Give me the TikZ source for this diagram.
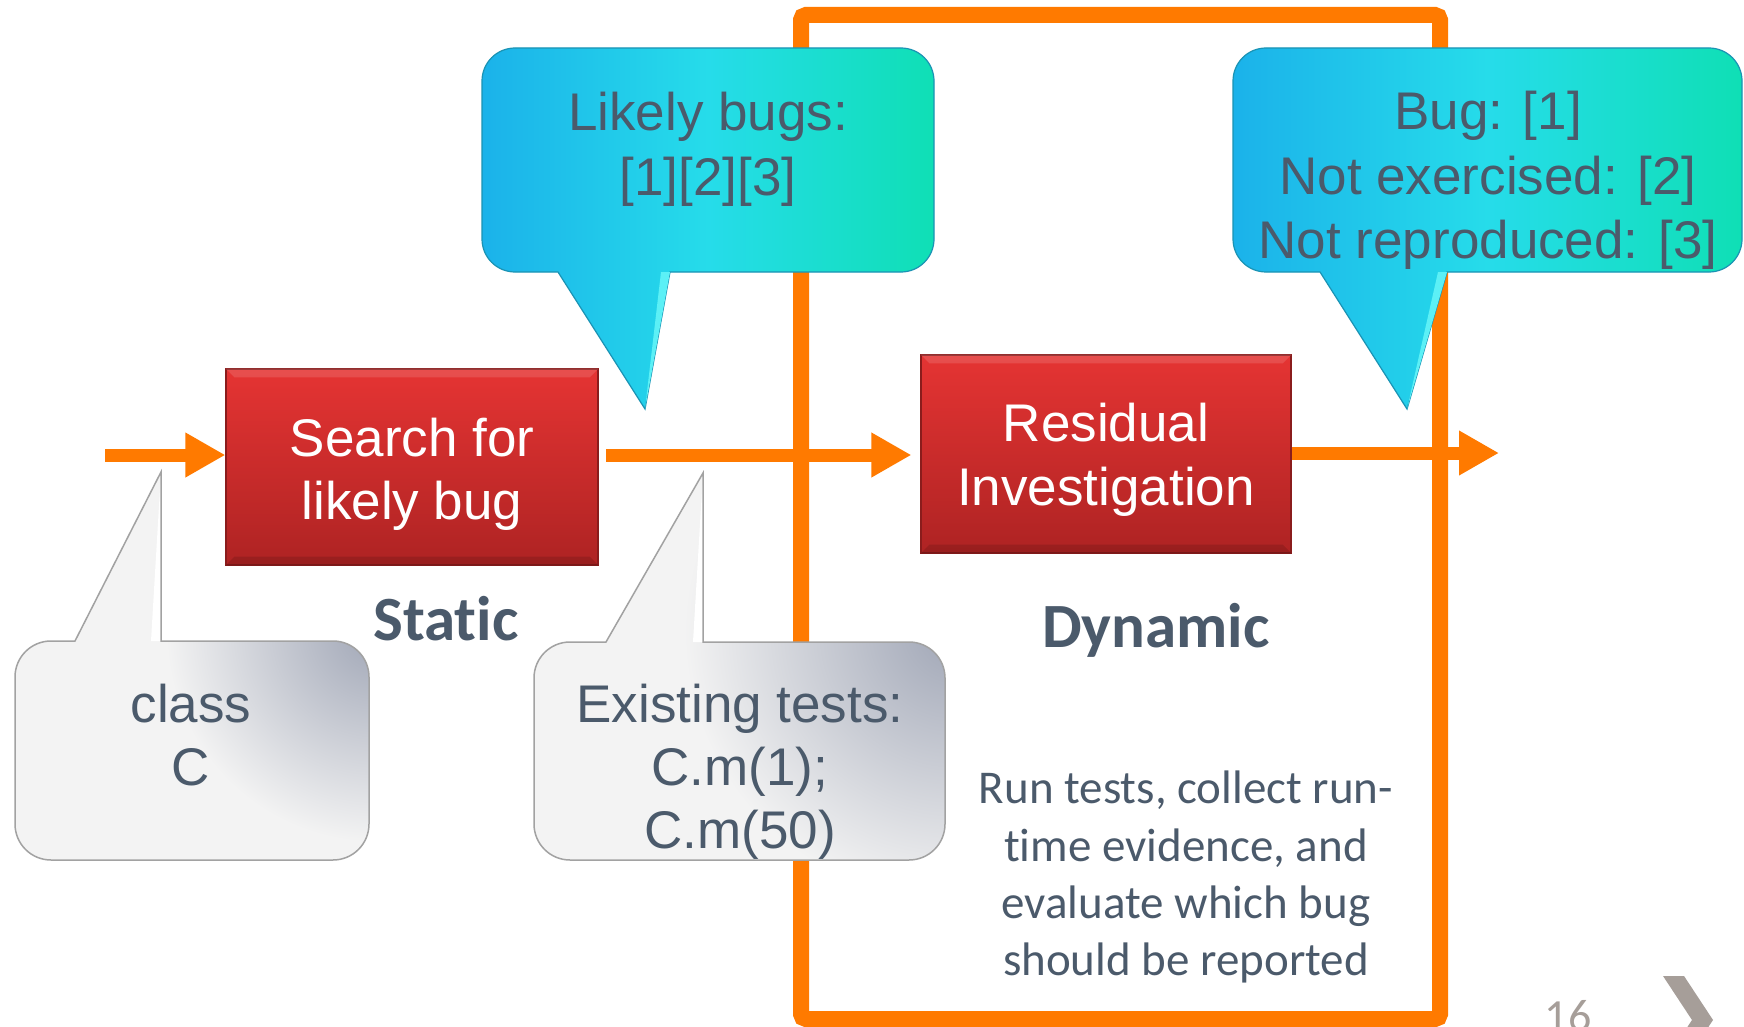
\documentclass[tikz,border=0pt]{standalone}
\usepackage{fontspec}
\setmainfont{Liberation Sans}
\newfontfamily\calfont[Ligatures=NoCommon]{Carlito}
\usetikzlibrary{arrows.meta}
\definecolor{orng}{HTML}{FF7A00}
\definecolor{slate}{HTML}{4B5A6B}
\definecolor{redtop}{HTML}{E53433}
\definecolor{redbot}{HTML}{AE2323}
\definecolor{reddark}{HTML}{8A1C1C}
\definecolor{cyA}{HTML}{1BB2EA}
\definecolor{cyB}{HTML}{26DCEA}
\definecolor{cyC}{HTML}{0FDFB5}
\definecolor{cyedge}{HTML}{1A93B4}
\definecolor{cyhi}{HTML}{5CF0F6}
\definecolor{gfill}{HTML}{F3F3F3}
\definecolor{gdark}{HTML}{A0A6B6}
\definecolor{gedge}{HTML}{A2A2A2}
\definecolor{pgnum}{HTML}{A69E99}
\tikzset{
  flowarrow/.style={draw=orng, line width=13pt, -{Triangle[length=40pt,width=42pt]}},
  redbox/.style={draw=reddark, line width=1.2pt, top color=redtop, bottom color=redbot, inner sep=0pt},
  cyanshape/.style={left color=cyA, right color=cyC, middle color=cyB, draw=cyedge, line width=1.2pt},
  greyshape/.style={fill=gfill},
  greyedge/.style={draw=gedge, line width=1.5pt},
  boxtxt/.style={anchor=base, inner sep=0pt, text=white, font=\fontsize{53}{63}\selectfont},
  calltxt/.style={anchor=base, inner sep=0pt, text=slate, font=\fontsize{53}{63}\selectfont},
  headtxt/.style={anchor=base, inner sep=0pt, text=slate, font=\calfont\bfseries\fontsize{63}{70}\selectfont},
  bodytxt/.style={anchor=base, inner sep=0pt, text=slate, font=\calfont\fontsize{47}{57}\selectfont},
}
\def\pA{(558,272) [rounded corners=33pt] -- (482,272) -- (482,48) -- (934,48) -- (934,272) [sharp corners] -- (670,272) -- (645,409) -- cycle}
\def\pB{(1320,272) [rounded corners=33pt] -- (1233,272) -- (1233,48) -- (1742,48) -- (1742,272) [sharp corners] -- (1447,272) -- (1407,409) -- cycle}
\def\pC{(161,641) [rounded corners=36pt] -- (369,641) -- (369,860) -- (15,860) -- (15,641) [sharp corners] -- (75,641) -- (161,472) -- cycle}
\def\pD{(703,642) [rounded corners=36pt] -- (945,642) -- (945,860) -- (534,860) -- (534,642) [sharp corners] -- (606,642) -- (703,473) -- cycle}
\begin{document}
\begin{tikzpicture}[x=1pt,y=-1pt]
\clip (0,0) rectangle (1744,1027);
\fill[white] (0,0) rectangle (1744,1027);

% orange frame (dynamic phase)
\draw[orng, line width=16pt, rounded corners=5pt] (801,15) rectangle (1440,1019);

% process boxes
\node[redbox, minimum width=372pt, minimum height=196pt] (box1) at (412,467) {};
\node[redbox, minimum width=370pt, minimum height=198pt] (box2) at (1106,454) {};
\foreach \b in {box1,box2}{
  \fill[white, opacity=0.13] (\b.north west) -- (\b.north east) -- ([xshift=-9pt,yshift=-9pt]\b.north east) -- ([xshift=9pt,yshift=-9pt]\b.north west) -- cycle;
  \fill[black, opacity=0.12] (\b.south west) -- (\b.south east) -- ([xshift=-9pt,yshift=9pt]\b.south east) -- ([xshift=9pt,yshift=9pt]\b.south west) -- cycle;
}
\node[boxtxt] (b1l1) at (412,456) {Search for};
\node[boxtxt] (b1l2) at (412,519) {likely bug};
\node[boxtxt] (b2l1) at (1106,441) {Residual};
\node[boxtxt] (b2l2) at (1106,505) {Investigation};

% arrows
\coordinate (in1) at (105,455);
\coordinate (a2s) at (606,455);
\coordinate (out3) at (1499,453);
\draw[flowarrow] (in1) -- (box1.west |- in1);
\draw[flowarrow] (a2s) -- ([xshift=-9pt]box2.west |- a2s);
\draw[flowarrow] (box2.east |- out3) -- (out3);

% cyan callouts
\shadedraw[cyanshape] \pA;
\fill[cyhi] (661,272) -- (670,272) -- (645,409) -- cycle;
\shadedraw[cyanshape] \pB;
\fill[cyhi] (1438,272) -- (1447,272) -- (1407,409) -- cycle;
\node[calltxt] (cA1) at (708,131) {Likely bugs:};
\node[calltxt] (cA2) at (708,195) {[1][2][3]};
\node[calltxt] (cB1) at (1488,130) {Bug: [1]};
\node[calltxt] (cB2) at (1488,194) {Not exercised: [2]};
\node[calltxt] (cB3) at (1488,258) {Not reproduced: [3]};

% grey callouts
\fill[greyshape] \pC;
\begin{scope}
  \clip \pC;
  \shade[inner color=gdark, outer color=gfill] (376,632) circle[radius=210pt];
\end{scope}
\fill[white] (151,641) -- (161,641) -- (161,472) -- cycle;
\draw[greyedge] \pC;

\fill[greyshape] \pD;
\begin{scope}
  \clip \pD;
  \shade[inner color=gdark, outer color=gfill] (954,632) circle[radius=270pt];
\end{scope}
\fill[white] (693,642) -- (703,642) -- (703,473) -- cycle;
\draw[greyedge] \pD;

\node[calltxt] (cC1) at (191,722) {class};
\node[calltxt] (cC2) at (191,785) {C};
\node[calltxt] (cD1) at (740,722) {Existing tests:};
\node[calltxt] (cD2) at (740,785) {C.m(1);};
\node[calltxt] (cD3) at (740,848) {C.m(50)};

% phase labels
\node[headtxt] (static) at (446,640) {Static};
\node[headtxt] (dynamic) at (1156,647) {Dynamic};
\node[bodytxt] (p1) at (1186,803) {Run tests, collect run-};
\node[bodytxt] (p2) at (1186,861) {time evidence, and};
\node[bodytxt] (p3) at (1186,918) {evaluate which bug};
\node[bodytxt] (p4) at (1186,975) {should be reported};

% slide furniture
\node[anchor=base, inner sep=0pt, text=pgnum, font=\calfont\fontsize{46}{50}\selectfont] (pg) at (1568,1031) {16};
\fill[pgnum] (1663,976) -- (1684,976) -- (1713,1020) -- (1684,1064) -- (1663,1064) -- (1692,1020) -- cycle;
\end{tikzpicture}
\end{document}
